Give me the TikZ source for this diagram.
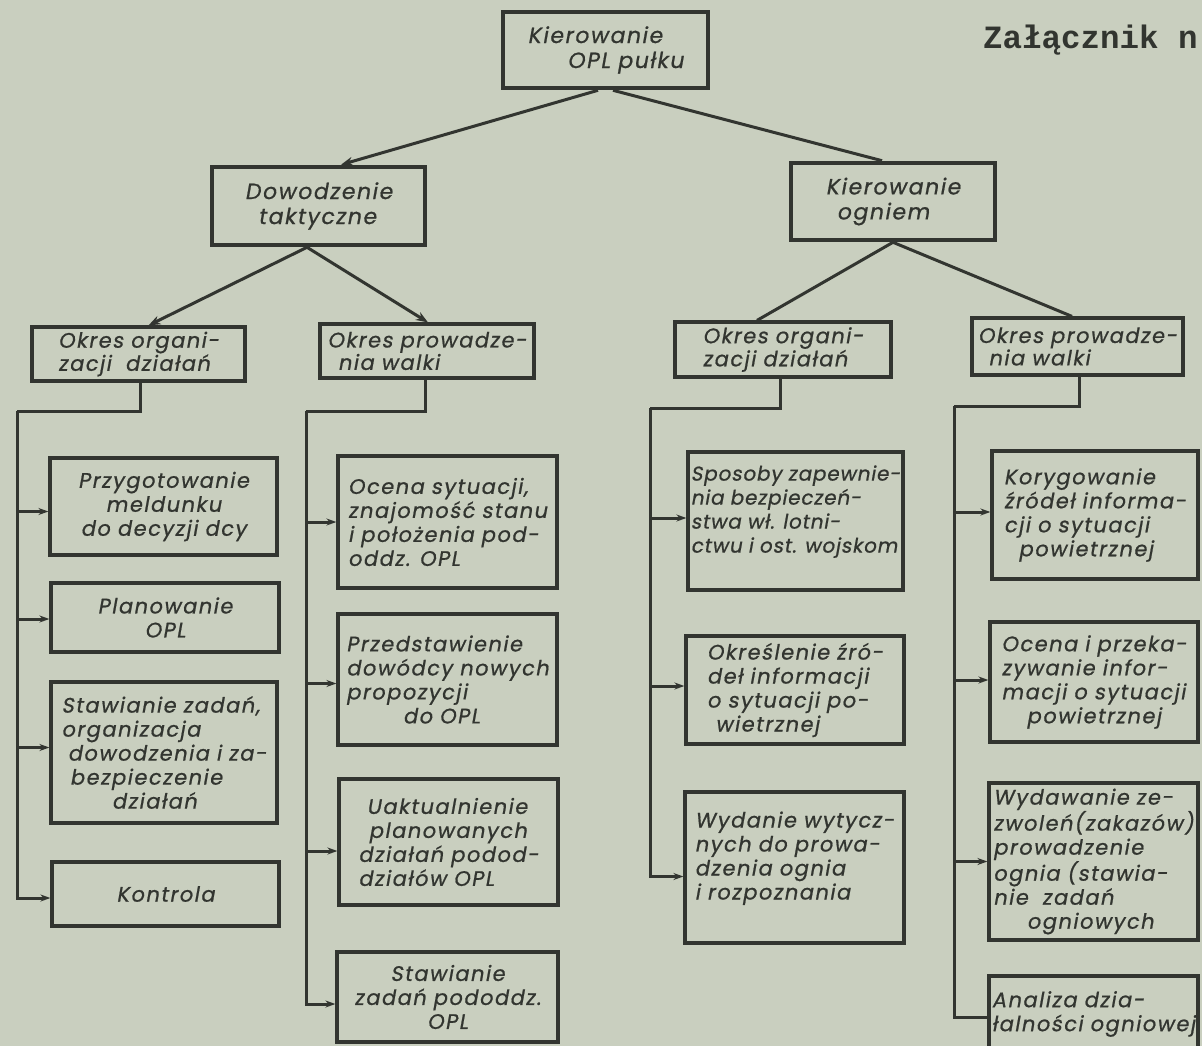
\documentclass[tikz,border=0pt]{standalone}
\usepackage{fontspec}
\setmainfont{Poppins}[FakeSlant=0.18, LetterSpace=7, FakeBold=0.8]
\newfontfamily\typew{Liberation Mono}
\usetikzlibrary{arrows.meta}
\definecolor{paper}{RGB}{201,207,191}
\definecolor{ink}{RGB}{50,53,48}
\tikzset{
  box/.style={draw=ink, line width=3.2pt, rectangle, inner sep=1pt, text=ink,
    font=\fontsize{21}{24}\selectfont, align=left},
  cbox/.style={box, align=center},
  hbox/.style={box, font=\fontsize{21}{21}\selectfont},
  topbox/.style={box, line width=4.6pt, font=\fontsize{22}{25}\selectfont},
  conn/.style={draw=ink, line width=3pt, line join=miter},
  arr/.style={conn, -{Stealth[length=12pt,width=9pt]}},
  harr/.style={conn, -{Stealth[length=10pt,width=7pt]}}
}
\begin{document}
\begin{tikzpicture}[x=1pt,y=-1pt]
\clip (0,0) rectangle (1202,1046);
\fill[paper] (0,0) rectangle (1202,1046);

% title
\node[anchor=west, text=ink, font=\typew\bfseries\fontsize{32.5}{35}\selectfont, inner sep=0pt] (title) at (983,40) {Załącznik n};

% top levels
\node[topbox, minimum width=205pt, minimum height=76pt] (T) at (605.5,50) {Kierowanie\\\hspace*{1.8em}OPL pułku};
\node[topbox, minimum width=213pt, minimum height=78pt] (D) at (318.5,206) {Dowodzenie\\\hspace*{0.6em}taktyczne};
\node[topbox, minimum width=204pt, minimum height=77pt] (K) at (893,201.5) {Kierowanie\\\hspace*{0.5em}ogniem};

% level 3
\node[hbox, minimum width=213pt, minimum height=54pt] (L1) at (138.5,354) {Okres organi-\\zacji\ \ działań};
\node[hbox, minimum width=214pt, minimum height=54pt] (L2) at (427,351) {Okres prowadze-\\\hspace*{0.5em}nia walki};
\node[hbox, minimum width=216pt, minimum height=55pt] (R1) at (783,349.5) {Okres organi-\\zacji działań};
\node[hbox, minimum width=211pt, minimum height=57pt] (R2) at (1077.5,346.5) {Okres prowadze-\\\hspace*{0.5em}nia walki};

% column 1
\node[cbox, minimum width=227pt, minimum height=97pt] (A1) at (163.5,506.5) {Przygotowanie\\meldunku\\do decyzji dcy};
\node[cbox, minimum width=228pt, minimum height=69pt] (A2) at (165,617.5) {Planowanie\\OPL};
\node[box, minimum width=226pt, minimum height=141pt] (A3) at (164,752.5) {Stawianie zadań,\\organizacja\\\hspace*{0.3em}dowodzenia i za-\\\hspace*{0.4em}bezpieczenie\\\hspace*{2.4em}działań};
\node[cbox, minimum width=227pt, minimum height=64pt] (A4) at (165.5,894) {Kontrola};

% column 2
\node[box, minimum width=219pt, minimum height=132pt] (B1) at (447.5,522) {Ocena sytuacji,\\znajomość stanu\\i położenia pod-\\oddz. OPL};
\node[box, minimum width=219pt, minimum height=131pt] (B2) at (447.5,679.5) {Przedstawienie\\dowódcy nowych\\propozycji\\\hspace*{2.7em}do OPL};
\node[box, minimum width=219pt, minimum height=126pt] (B3) at (448.5,842) {\hspace*{0.4em}Uaktualnienie\\\hspace*{0.5em}planowanych\\działań podod-\\działów OPL};
\node[cbox, minimum width=221pt, minimum height=90pt] (B4) at (447.5,997) {Stawianie\\zadań pododdz.\\OPL};

% column 3
\node[box, font=\fontsize{20}{24}\selectfont\addfontfeature{LetterSpace=4}, minimum width=215pt, minimum height=138pt] (C1) at (795.5,521) {Sposoby zapewnie-\\nia bezpieczeń-\\stwa wł. lotni-\\ctwu i ost. wojskom\\\mbox{}};
\node[box, minimum width=218pt, minimum height=108pt] (C2) at (795,690) {Określenie źró-\\deł informacji\\o sytuacji po-\\\hspace*{0.4em}wietrznej};
\node[box, minimum width=219pt, minimum height=151pt] (C3) at (794.5,867.5) {Wydanie wytycz-\\nych do prowa-\\dzenia ognia\\i rozpoznania\\\mbox{}};

% column 4
\node[box, minimum width=206pt, minimum height=128pt] (E1) at (1095,515) {Korygowanie\\źródeł informa-\\cji o sytuacji\\\hspace*{0.7em}powietrznej};
\node[box, minimum width=208pt, minimum height=120pt] (E2) at (1094,682) {Ocena i przeka-\\zywanie infor-\\macji o sytuacji\\\hspace*{1.2em}powietrznej};
\node[box, minimum width=209pt, minimum height=157pt] (E3) at (1093.5,861.5) {Wydawanie ze-\\zwoleń(zakazów)\\prowadzenie\\ognia (stawia-\\nie\ \ zadań\\\hspace*{1.6em}ogniowych};
\node[box, minimum width=209pt, minimum height=76pt] (E4) at (1093.5,1014) {Analiza dzia-\\łalności ogniowej};

% tree connectors
\draw[arr] ([xshift=-7.5pt]T.south) -- ([xshift=22.5pt]D.north);
\draw[conn] ([xshift=7.5pt]T.south) -- ([xshift=-11pt]K.north);
\draw[arr] ([xshift=-11.5pt]D.south) -- ([xshift=10pt]L1.north);
\draw[arr] ([xshift=-11.5pt]D.south) -- ([xshift=1pt]L2.north);
\draw[conn] (K.south) -- ([xshift=-26pt]R1.north);
\draw[conn] (K.south) -- ([xshift=-5.5pt]R2.north);

% junctions
\coordinate (j1) at (17,411);
\coordinate (j2) at (306,411);
\coordinate (j3) at (650,408);
\coordinate (j4) at (954,406);
\draw[conn] ([xshift=1.5pt]L1.south) |- (j1);
\draw[conn] ([xshift=-2pt]L2.south) |- (j2);
\draw[conn] ([xshift=-3pt]R1.south) |- (j3);
\draw[conn] ([xshift=1.5pt]R2.south) |- (j4);

% column 1 branches
\draw[harr] (j1) |- ([yshift=-5pt]A1.west);
\draw[harr] (j1) |- ([yshift=-1.5pt]A2.west);
\draw[harr] (j1) |- ([yshift=5pt]A3.west);
\draw[harr] (j1) |- ([yshift=-4pt]A4.west);
% column 2 branches
\draw[harr] (j2) |- (B1.west);
\draw[harr] (j2) |- ([yshift=-4pt]B2.west);
\draw[harr] (j2) |- ([yshift=-9pt]B3.west);
\draw[harr] (j2) |- ([yshift=-7pt]B4.west);
% column 3 branches
\draw[harr] (j3) |- ([yshift=3pt]C1.west);
\draw[harr] (j3) |- ([yshift=4pt]C2.west);
\draw[harr] (j3) |- ([yshift=-9pt]C3.west);
% column 4 branches
\draw[harr] (j4) |- ([yshift=3pt]E1.west);
\draw[harr] (j4) |- ([yshift=2pt]E2.west);
\draw[harr] (j4) |- (E3.west);
\draw[conn] (j4) |- ([yshift=-3pt]E4.west);
\end{tikzpicture}
\end{document}
